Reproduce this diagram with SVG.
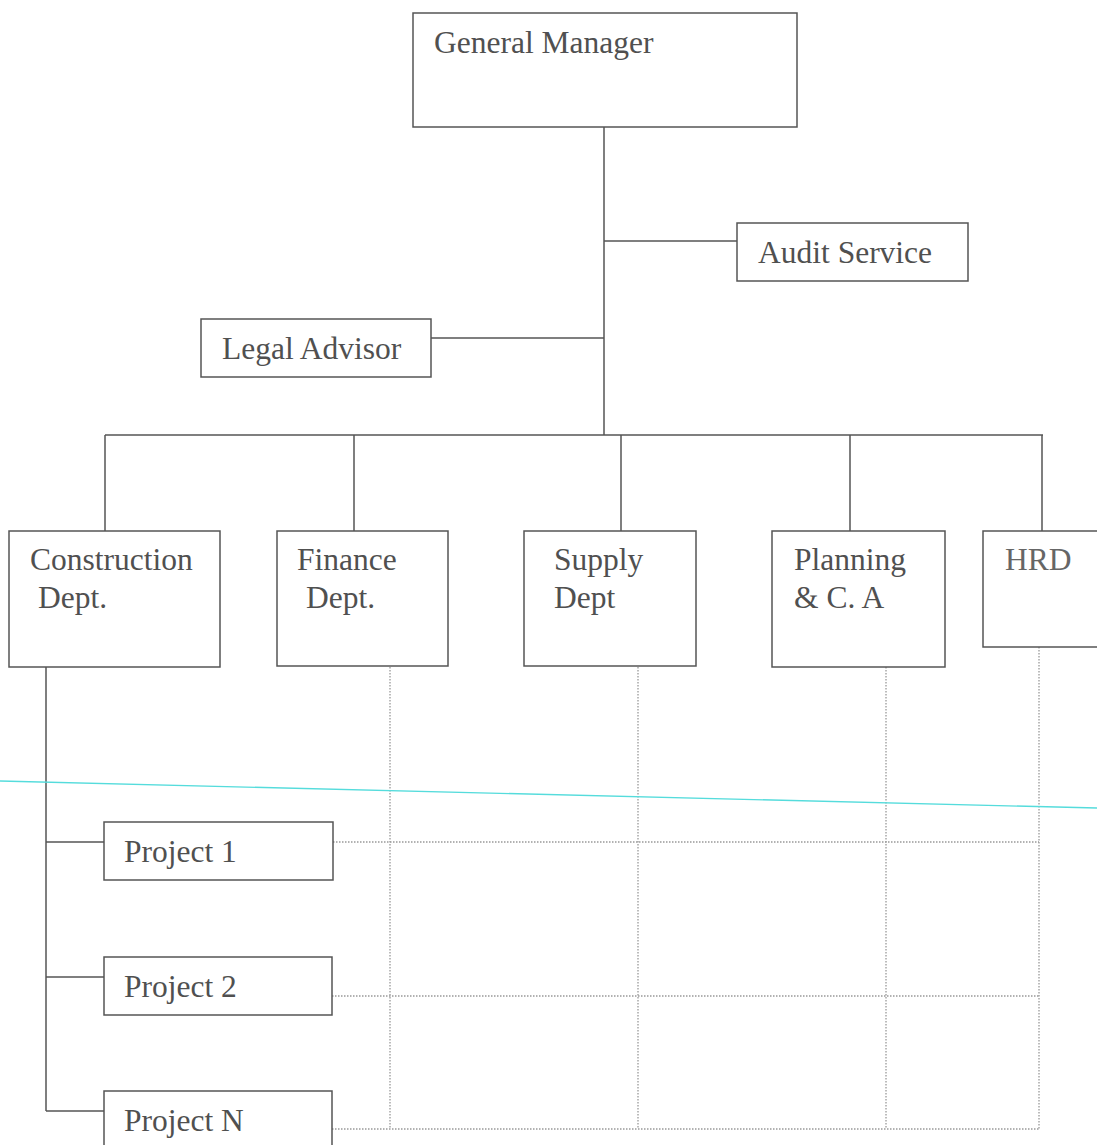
<svg xmlns="http://www.w3.org/2000/svg" width="1097" height="1145" viewBox="0 0 1097 1145">
<style>
.box{fill:#fff;stroke:#555;stroke-width:1.5}
.t{font-family:"Liberation Serif","Times New Roman",serif;font-size:31.5px;fill:#505050}
.ln{stroke:#555;stroke-width:1.5;fill:none}
.dot{stroke:#999;stroke-width:1.3;stroke-dasharray:1.5 1.5;fill:none}
</style>
<rect width="1097" height="1145" fill="#fff"/>
<g id="connectors">
<line class="ln" x1="604" y1="127" x2="604" y2="435"/>
<line class="ln" x1="604" y1="241" x2="737" y2="241"/>
<line class="ln" x1="431" y1="338" x2="604" y2="338"/>
<line class="ln" x1="105" y1="435" x2="1043" y2="435"/>
<line class="ln" x1="105" y1="435" x2="105" y2="531"/>
<line class="ln" x1="354" y1="435" x2="354" y2="531"/>
<line class="ln" x1="621" y1="435" x2="621" y2="531"/>
<line class="ln" x1="850" y1="435" x2="850" y2="531"/>
<line class="ln" x1="1042" y1="435" x2="1042" y2="531"/>
<line class="ln" x1="46" y1="667" x2="46" y2="1111"/>
<line class="ln" x1="46" y1="842" x2="104" y2="842"/>
<line class="ln" x1="46" y1="977" x2="104" y2="977"/>
<line class="ln" x1="46" y1="1111" x2="104" y2="1111"/>
<line class="dot" x1="390" y1="667" x2="390" y2="1129"/>
<line class="dot" x1="638" y1="667" x2="638" y2="1129"/>
<line class="dot" x1="886" y1="667" x2="886" y2="1129"/>
<line class="dot" x1="1039" y1="647" x2="1039" y2="1129"/>
<line class="dot" x1="333" y1="842" x2="1039" y2="842"/>
<line class="dot" x1="332" y1="996" x2="1039" y2="996"/>
<line class="dot" x1="332" y1="1129" x2="1039" y2="1129"/>
</g>
<line x1="0" y1="781" x2="1097" y2="808" stroke="#55dcdc" stroke-width="1.3"/>
<g id="general-manager"><rect class="box" x="413" y="13" width="384" height="114"/><text class="t" x="434" y="53">General Manager</text></g>
<g id="audit-service"><rect class="box" x="737" y="223" width="231" height="58"/><text class="t" x="758" y="263">Audit Service</text></g>
<g id="legal-advisor"><rect class="box" x="201" y="319" width="230" height="58"/><text class="t" x="222" y="359">Legal Advisor</text></g>
<g id="construction"><rect class="box" x="9" y="531" width="211" height="136"/><text class="t" x="30" y="570">Construction</text><text class="t" x="38" y="608">Dept.</text></g>
<g id="finance"><rect class="box" x="277" y="531" width="171" height="135"/><text class="t" x="297" y="570">Finance</text><text class="t" x="306" y="608">Dept.</text></g>
<g id="supply"><rect class="box" x="524" y="531" width="172" height="135"/><text class="t" x="554" y="570">Supply</text><text class="t" x="554" y="608">Dept</text></g>
<g id="planning"><rect class="box" x="772" y="531" width="173" height="136"/><text class="t" x="794" y="570">Planning</text><text class="t" x="794" y="608">&amp; C. A</text></g>
<g id="hrd"><rect class="box" x="983" y="531" width="120" height="116"/><text class="t" x="1005" y="570" style="fill:#666">HRD</text></g>
<g id="project-1"><rect class="box" x="104" y="822" width="229" height="58"/><text class="t" x="124" y="862">Project 1</text></g>
<g id="project-2"><rect class="box" x="104" y="957" width="228" height="58"/><text class="t" x="124" y="997">Project 2</text></g>
<g id="project-n"><rect class="box" x="104" y="1091" width="228" height="60"/><text class="t" x="124" y="1131">Project N</text></g>
</svg>
